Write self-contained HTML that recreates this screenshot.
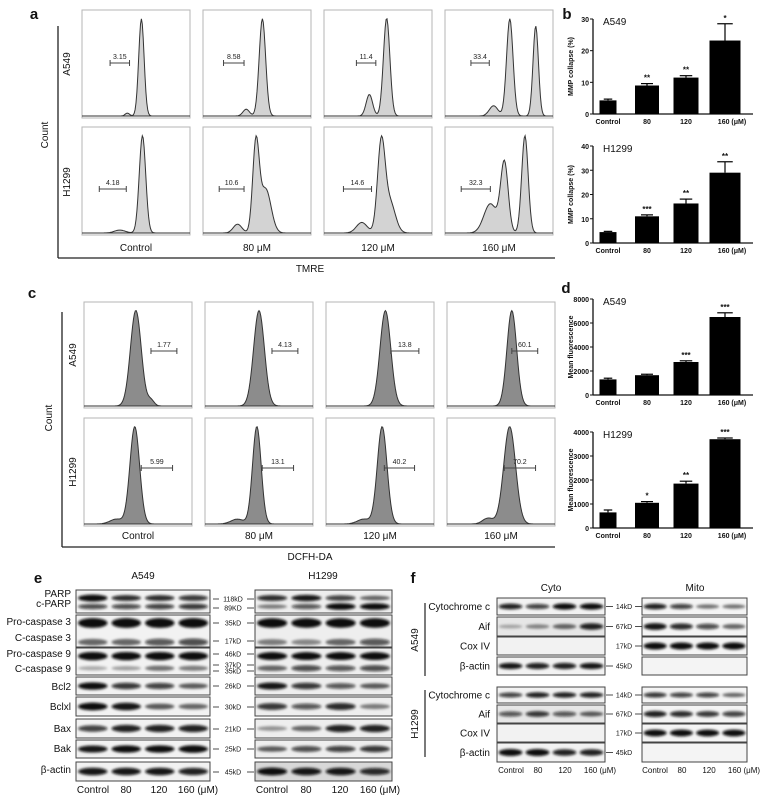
<!DOCTYPE html>
<html><head><meta charset="utf-8">
<style>
html,body{margin:0;padding:0;background:#fff;}
svg{display:block;font-family:"Liberation Sans",Arial,sans-serif;}
</style></head>
<body>
<svg id="fig" width="761" height="800" viewBox="0 0 761 800">
<defs>
<filter id="blur" x="-20%" y="-100%" width="140%" height="300%"><feGaussianBlur stdDeviation="1.2"/></filter>
</defs>
<g id="root"></g>
</svg>
<script>
// ---------- DATA ----------
const doses = ["Control","80 μM","120 μM","160 μM"];
const barCats = ["Control","80","120","160 (μM)"];
// Panel a TMRE histograms: components [position(0-1), width, height]
const tmreA549 = [
 [[0.55,0.025,1],[0.42,0.02,0.03]],
 [[0.55,0.03,1],[0.40,0.03,0.07]],
 [[0.58,0.03,1],[0.42,0.03,0.22]],
 [[0.60,0.03,0.95],[0.84,0.025,0.88],[0.45,0.04,0.1]]
];
const tmreH1299 = [
 [[0.56,0.03,1],[0.35,0.05,0.03]],
 [[0.49,0.03,1],[0.58,0.05,0.5],[0.32,0.04,0.1]],
 [[0.53,0.035,1],[0.61,0.05,0.35],[0.35,0.05,0.12]],
 [[0.55,0.035,0.72],[0.74,0.03,1],[0.42,0.06,0.3]]
];
const tmreGateA549 = ["3.15","8.58","11.4","33.4"];
const tmreGateH1299 = ["4.18","10.6","14.6","32.3"];
// Panel c DCFH-DA histograms
const dcfA549 = [
 [[0.48,0.05,1],[0.62,0.03,0.06]],
 [[0.50,0.05,1]],
 [[0.55,0.05,1]],
 [[0.60,0.045,1]]
];
const dcfH1299 = [
 [[0.47,0.045,1],[0.3,0.06,0.05]],
 [[0.48,0.04,1],[0.3,0.06,0.05]],
 [[0.52,0.045,1],[0.35,0.06,0.05]],
 [[0.58,0.055,1],[0.38,0.05,0.06]]
];
const dcfGateA549 = ["1.77","4.13","13.8","60.1"];
const dcfGateH1299 = ["5.99","13.1","40.2","70.2"];
// Panel b bars
const mmpA549 = [4.3, 9.0, 11.5, 23.2];
const mmpA549Err = [0.4, 0.6, 0.6, 5.3];
const mmpA549Stars = ["", "**", "**", "*"];
const mmpA549Ticks = [0,10,20,30];
const mmpH1299 = [4.5, 11.0, 16.3, 29.0];
const mmpH1299Err = [0.3, 0.6, 1.8, 4.5];
const mmpH1299Stars = ["", "***", "**", "**"];
const mmpH1299Ticks = [0,10,20,30,40];
// Panel d bars
const fluA549 = [1300, 1650, 2750, 6500];
const fluA549Err = [100, 80, 100, 350];
const fluA549Stars = ["", "", "***", "***"];
const fluA549Ticks = [0,2000,4000,6000,8000];
const fluH1299 = [650, 1050, 1850, 3700];
const fluH1299Err = [100, 50, 100, 50];
const fluH1299Stars = ["", "*", "**", "***"];
const fluH1299Ticks = [0,1000,2000,3000,4000];
// Panel e blot band intensities (0-1) per lane
const blotRowsE = [
 {name:"PARP", y0:590, y1:613, kd:"118kD", bands:[[0.35,[0.95,0.7,0.7,0.65],[0.7,0.8,0.6,0.4]],[0.72,[0.55,0.55,0.6,0.65],[0.3,0.5,0.85,0.85]]]},
 {name:"caspase3", y0:615, y1:647, kd:"35kD", bands:[[0.25,[1,1,1,1],[0.95,0.95,0.95,0.95]],[0.85,[0.4,0.4,0.5,0.55],[0.3,0.25,0.4,0.5]]]},
 {name:"caspase9", y0:648, y1:675, kd:"46kD", bands:[[0.3,[1,1,1,1],[0.9,0.9,0.9,0.9]],[0.75,[0.1,0.15,0.35,0.3],[0.4,0.55,0.5,0.55]]]},
 {name:"Bcl2", y0:677, y1:695, kd:"26kD", bands:[[0.5,[0.85,0.65,0.6,0.45],[0.8,0.65,0.5,0.45]]]},
 {name:"Bclxl", y0:697, y1:716, kd:"30kD", bands:[[0.5,[0.85,0.8,0.45,0.4],[0.65,0.5,0.7,0.3]]]},
 {name:"Bax", y0:719, y1:738, kd:"21kD", bands:[[0.5,[0.6,0.75,0.75,0.75],[0.2,0.4,0.75,0.75]]]},
 {name:"Bak", y0:740, y1:758, kd:"25kD", bands:[[0.5,[0.8,0.85,0.85,0.9],[0.45,0.55,0.6,0.65]]]},
 {name:"actin", y0:762, y1:781, kd:"45kD", bands:[[0.5,[0.8,0.8,0.8,0.75],[0.85,0.8,0.8,0.7]]]}
];
const blotRowsF = [
 {label:"Cytochrome c", kd:"14kD", cyto:[0.75,0.6,0.85,0.85], mito:[0.75,0.6,0.35,0.35]},
 {label:"Aif", kd:"67kD", cyto:[0.1,0.25,0.4,0.75], mito:[0.8,0.7,0.55,0.4]},
 {label:"Cox IV", kd:"17kD", cyto:[0,0,0,0], mito:[0.95,0.95,0.95,0.95]},
 {label:"β-actin", kd:"45kD", cyto:[0.8,0.75,0.75,0.8], mito:[0,0,0,0]}
];
const blotRowsFH = [
 {label:"Cytochrome c", kd:"14kD", cyto:[0.6,0.75,0.75,0.75], mito:[0.65,0.6,0.6,0.4]},
 {label:"Aif", kd:"67kD", cyto:[0.5,0.65,0.5,0.45], mito:[0.75,0.7,0.65,0.6]},
 {label:"Cox IV", kd:"17kD", cyto:[0,0,0,0], mito:[0.9,0.9,0.9,0.9]},
 {label:"β-actin", kd:"45kD", cyto:[0.85,0.85,0.75,0.75], mito:[0,0,0,0]}
];

// ---------- HELPERS ----------
const NS="http://www.w3.org/2000/svg";
const root=document.getElementById('root');
function el(tag,attrs,parent,text){
  const e=document.createElementNS(NS,tag);
  for(const k in attrs) e.setAttribute(k,attrs[k]);
  if(text!==undefined) e.textContent=text;
  (parent||root).appendChild(e);
  return e;
}
function txt(x,y,s,size,opts){
  opts=opts||{};
  const t=el('text',{x:x,y:y,'font-size':size,'text-anchor':opts.anchor||'middle',fill:'#111','font-weight':opts.bold?'bold':'normal'},opts.parent,s);
  if(opts.rot) t.setAttribute('transform','rotate('+opts.rot+' '+x+' '+y+')');
  
  
  return t;
}
function line(x1,y1,x2,y2,w,c,p){
  const l=el('line',{x1:x1,y1:y1,x2:x2,y2:y2,stroke:c||'#222','stroke-width':w||1},p);
  return l;
}

// ---------- HISTOGRAMS ----------
function histogram(x0,y0,w,h,comps,fill,name){
  const g=el('g',{});
  
  
  el('rect',{x:x0,y:y0,width:w,height:h,fill:'#fff',stroke:'#b5b5b5','stroke-width':1},g);
  const N=120, base=y0+h-2;
  let vals=[], mx=0;
  for(let i=0;i<=N;i++){
    const t=i/N; let v=0;
    comps.forEach(c=>{v+=c[2]*Math.exp(-0.5*Math.pow((t-c[0])/c[1],2));});
    vals.push(v); if(v>mx) mx=v;
  }
  let d='M'+x0+','+base;
  vals.forEach((v,i)=>{d+=' L'+(x0+i/N*w).toFixed(1)+','+(base-(v/mx)*(h*0.9)).toFixed(1);});
  d+=' L'+(x0+w)+','+base+' Z';
  const p=el('path',{d:d,fill:fill,stroke:'#333','stroke-width':1},g);
  
  
  return g;
}
function gate(x1,x2,y,label){
  const g=el('g',{});
  
  
  line(x1,y,x2,y,1,'#444',g); line(x1,y-3,x1,y+3,1,'#444',g); line(x2,y-3,x2,y+3,1,'#444',g);
  const t=el('text',{x:(x1+x2)/2,y:y-4,'font-size':7,'text-anchor':'middle',fill:'#222'},g,label);
  
  
}
const colX=[82,203,324,445], boxW=108;
// panel a
txt(34,19,'a',15,{bold:true,name:'panel-a-label'});
line(58,26,58,258,1.3); line(58,258,555,258,1.3);
txt(48,135,'Count',10,{rot:-90,name:'a-y-axis-title'});
txt(70,64,'A549',10,{rot:-90,name:'a-row-a549'});
txt(70,182,'H1299',10,{rot:-90,name:'a-row-h1299'});
const aGA=[[0.26,0.44],[0.19,0.38],[0.30,0.48],[0.24,0.41]];
const aGH=[[0.16,0.41],[0.15,0.38],[0.18,0.44],[0.15,0.42]];
for(let i=0;i<4;i++){
  histogram(colX[i],10,boxW,108,tmreA549[i],'#d3d3d3','tmre-a549-'+i);
  gate(colX[i]+aGA[i][0]*boxW,colX[i]+aGA[i][1]*boxW,63,tmreGateA549[i]);
  histogram(colX[i],127,boxW,108,tmreH1299[i],'#d3d3d3','tmre-h1299-'+i);
  gate(colX[i]+aGH[i][0]*boxW,colX[i]+aGH[i][1]*boxW,189,tmreGateH1299[i]);
  txt(colX[i]+boxW/2,251,doses[i],10,{name:'a-dose-label'});
}
txt(310,272,'TMRE',10,{name:'a-x-axis-title'});
// panel c
txt(32,298,'c',15,{bold:true,name:'panel-c-label'});
line(62,312,62,547,1.3); line(62,547,555,547,1.3);
txt(52,418,'Count',10,{rot:-90,name:'c-y-axis-title'});
txt(76,355,'A549',10,{rot:-90,name:'c-row-a549'});
txt(76,472,'H1299',10,{rot:-90,name:'c-row-h1299'});
const cX=[84,205,326,447];
const cGA=[[0.62,0.86],[0.62,0.86],[0.6,0.86],[0.6,0.84]];
const cGH=[[0.53,0.82],[0.53,0.82],[0.54,0.82],[0.53,0.82]];
for(let i=0;i<4;i++){
  histogram(cX[i],302,108,106,dcfA549[i],'#8c8c8c','dcf-a549-'+i);
  gate(cX[i]+cGA[i][0]*108,cX[i]+cGA[i][1]*108,351,dcfGateA549[i]);
  histogram(cX[i],418,108,108,dcfH1299[i],'#8c8c8c','dcf-h1299-'+i);
  gate(cX[i]+cGH[i][0]*108,cX[i]+cGH[i][1]*108,468,dcfGateH1299[i]);
  txt(cX[i]+54,539,doses[i],10,{name:'c-dose-label'});
}
txt(310,560,'DCFH-DA',10,{name:'c-x-axis-title'});

// ---------- BAR CHARTS ----------
function barChart(o){
  const g=el('g',{});
  
  
  const ax=593, ax2=753;
  const yS=v=>o.yZero-(v/o.max)*(o.yZero-o.yTop);
  const xS=i=>ax+15+i*39;
  line(ax,o.yTop,ax,o.yZero,1.3,'#111',g);
  line(ax,o.yZero,ax2,o.yZero,1.3,'#111',g);
  o.ticks.forEach(t=>{
    line(ax-3,yS(t),ax,yS(t),1,'#111',g);
    const tt=el('text',{x:ax-4,y:yS(t)+3,'font-size':7,'text-anchor':'end','font-weight':'bold',fill:'#111'},g,String(t));
    
    
  });
  o.vals.forEach((v,i)=>{
    const cx=xS(i), bw=o.widths[i];
    const r=el('rect',{x:cx-bw/2,y:yS(v),width:bw,height:o.yZero-yS(v),fill:'#000'},g);
    
    
    const et=yS(v+o.errs[i]);
    line(cx,yS(v),cx,et,1.2,'#000',g);
    line(cx-bw/4,et,cx+bw/4,et,1.2,'#000',g);
    if(o.stars[i]){
      const s=el('text',{x:cx,y:et-3,'font-size':8,'text-anchor':'middle','font-weight':'bold',fill:'#111'},g,o.stars[i]);
      
      
    }
    const lbl=el('text',{x:cx+(i==3?7:0),y:o.yZero+10,'font-size':7,'text-anchor':'middle','font-weight':'bold',fill:'#111'},g,barCats[i]);
    
    
  });
  const ti=el('text',{x:603,y:o.yTop+6,'font-size':10,fill:'#111'},g,o.title);
  
  
  const yl=el('text',{x:573,y:(o.yTop+o.yZero)/2,'font-size':7,'font-weight':'bold','text-anchor':'middle',fill:'#111',transform:'rotate(-90 573 '+((o.yTop+o.yZero)/2)+')'},g,o.ylabel);
  
  
}
txt(567,19,'b',15,{bold:true,name:'panel-b-label'});
barChart({name:'mmp-a549-chart',title:'A549',ylabel:'MMP collapse (%)',yTop:19,yZero:114,max:30,ticks:mmpA549Ticks,vals:mmpA549,errs:mmpA549Err,stars:mmpA549Stars,widths:[17,24,25,31]});
barChart({name:'mmp-h1299-chart',title:'H1299',ylabel:'MMP collapse (%)',yTop:146,yZero:243,max:40,ticks:mmpH1299Ticks,vals:mmpH1299,errs:mmpH1299Err,stars:mmpH1299Stars,widths:[17,24,25,31]});
txt(566,293,'d',15,{bold:true,name:'panel-d-label'});
barChart({name:'fluorescence-a549-chart',title:'A549',ylabel:'Mean fluorescence',yTop:299,yZero:395,max:8000,ticks:fluA549Ticks,vals:fluA549,errs:fluA549Err,stars:fluA549Stars,widths:[17,24,25,31]});
barChart({name:'fluorescence-h1299-chart',title:'H1299',ylabel:'Mean fluorescence',yTop:432,yZero:528,max:4000,ticks:fluH1299Ticks,vals:fluH1299,errs:fluH1299Err,stars:fluH1299Stars,widths:[17,24,25,31]});

// ---------- WESTERN BLOTS ----------
function blotBox(x0,y0,x1,y1,bands,bg,name){
  const g=el('g',{});
  
  
  el('rect',{x:x0,y:y0,width:x1-x0,height:y1-y0,fill:bg||'#f4f4f4',stroke:'#444','stroke-width':1},g);
  const lw=(x1-x0)/4;
  bands.forEach(b=>{
    b.ints.forEach((v,i)=>{
      if(v<=0) return;
      const e=el('ellipse',{cx:x0+lw*(i+0.5),cy:y0+(y1-y0)*b.pos,rx:lw*0.44,ry:Math.max(1.6,(y1-y0)*b.th*(0.5+v*0.6)),fill:'#0a0a0a','fill-opacity':Math.min(1,0.2+v*0.95),filter:'url(#blur)'},g);
      
      
    });
  });
}
txt(38,583,'e',15,{bold:true,name:'panel-e-label'});
txt(143,579,'A549',10,{name:'e-title-a549'});
txt(323,579,'H1299',10,{name:'e-title-h1299'});
const eLabels=[["PARP",597],["c-PARP",607],["Pro-caspase 3",625],["C-caspase 3",641],["Pro-caspase 9",657],["C-caspase 9",672],["Bcl2",690],["Bclxl",710],["Bax",732],["Bak",752],["β-actin",773]];
eLabels.forEach(l=>txt(71,l[1],l[0],10,{anchor:'end',name:'protein-label'}));
const eKd=[["118kD",599],["89KD",608],["35kD",623],["17kD",641],["46kD",654],["37kD",665],["35kD",671],["26kD",686],["30kD",707],["21kD",729],["25kD",749],["45kD",772]];
eKd.forEach(k=>{
  txt(233,k[1]+2.5,k[0],7,{name:'kd-marker'});
  line(213,k[1],219,k[1],0.8); line(247,k[1],254,k[1],0.8);
});
blotRowsE.forEach((r,ri)=>{
  const th = r.bands.length>1 ? 0.14 : 0.2;
  blotBox(76,r.y0,210,r.y1,r.bands.map(b=>({pos:b[0],th:th,ints:b[1]})),'#f2f2f2','blot-a549-'+r.name);
  blotBox(255,r.y0,392,r.y1,r.bands.map(b=>({pos:b[0],th:th,ints:b[2]})),ri==7?'#d8d8d8':'#eeeeee','blot-h1299-'+r.name);
});
['Control','80','120','160 (μM)'].forEach((s,i)=>{
  txt(93+i*33+(i==3?6:0),793,s,10,{name:'e-lane-label'});
  txt(272+i*34+(i==3?6:0),793,s,10,{name:'e-lane-label'});
});
// panel f
txt(413,583,'f',15,{bold:true,name:'panel-f-label'});
txt(551,591,'Cyto',10,{name:'f-title-cyto'});
txt(695,591,'Mito',10,{name:'f-title-mito'});
line(425,603,425,676,1.2); line(425,690,425,757,1.2);
txt(418,640,'A549',10,{rot:-90,name:'f-row-a549'});
txt(418,724,'H1299',10,{rot:-90,name:'f-row-h1299'});
const fRowsY=[[598,615],[617,636],[637,655],[657,675]];
const fRowsYH=[[687,703],[705,723],[724,742],[743,762]];
function fGroup(rows,ys,tag){
  rows.forEach((r,i)=>{
    const y0=ys[i][0], y1=ys[i][1], mid=(y0+y1)/2;
    txt(490,mid+3.5,r.label,10,{anchor:'end',name:'protein-label'});
    blotBox(497,y0,605,y1,[{pos:0.5,th:0.18,ints:r.cyto}],i==1?'#e6e6e6':'#f2f2f2','blot-cyto-'+tag+'-'+i);
    blotBox(642,y0,747,y1,[{pos:0.5,th:0.18,ints:r.mito}],'#f4f4f4','blot-mito-'+tag+'-'+i);
    txt(624,mid+2.5,r.kd,7,{name:'kd-marker'});
    if(r.cyto.some(v=>v>0)) line(606,mid,613,mid,0.8);
    if(r.mito.some(v=>v>0)) line(635,mid,642,mid,0.8);
  });
}
fGroup(blotRowsF,fRowsY,'a549');
fGroup(blotRowsFH,fRowsYH,'h1299');
['Control','80','120','160 (μM)'].forEach((s,i)=>{
  txt(511+i*27+(i==3?8:0),773,s,8,{name:'f-lane-label'});
  txt(655+i*27+(i==3?8:0),773,s,8,{name:'f-lane-label'});
});
</script>
</body></html>
